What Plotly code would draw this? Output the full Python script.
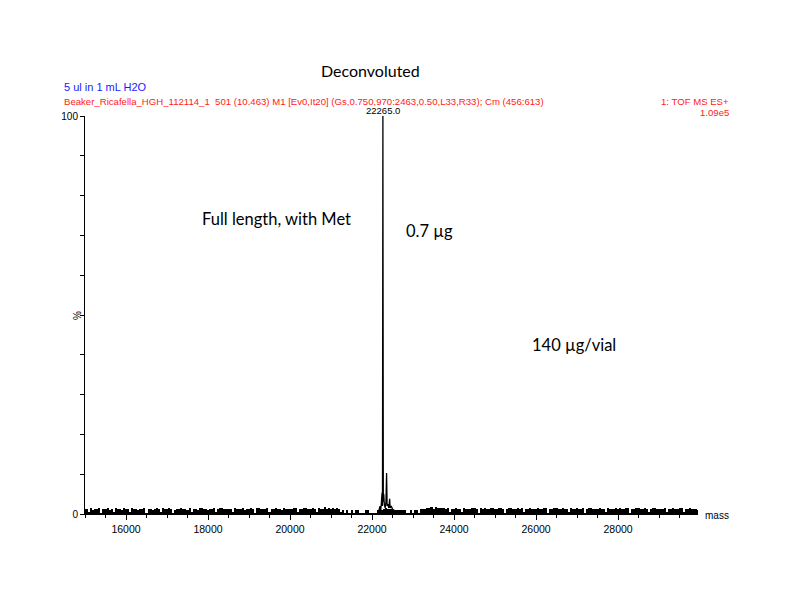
import numpy as np
import plotly.graph_objects as go

# deconvoluted spectrum baseline, one value per 50 Da from 15000 to 29950 (% of base peak)
base_start = 15000
base_step = 50
base_int = [
    1.2, 1.3, 0.3, 1.4, 1.1, 1.2, 1.3, 1.5, 0.2, 1.3, 1.2, 1.4, 1.1, 1.2, 0.3, 1.4, 1.2, 1.3, 1.1, 1.5,
    1.3, 1.2, 0.4, 1.4, 1.2, 1.3, 1.1, 1.2, 1.3, 1.5, 0.2, 1.3, 1.2, 1.1, 1.3, 1.4, 1.2, 0.3, 1.4, 1.2,
    1.2, 1.4, 1.3, 0.2, 1.1, 1.3, 1.2, 1.4, 1.3, 1.2, 1.1, 1.5, 0.3, 1.3, 1.2, 1.1, 1.4, 1.4, 1.2, 1.3,
    1.1, 1.3, 1.2, 1.5, 0.3, 1.2, 1.4, 1.4, 1.2, 1.3, 1.3, 1.2, 0.4, 1.4, 1.2, 1.3, 1.3, 1.5, 1.1, 1.2,
    1.3, 1.4, 1.2, 0.2, 1.4, 1.6, 1.3, 1.3, 1.2, 1.4, 0.3, 1.2, 1.3, 1.5, 1.2, 1.3, 1.1, 1.4, 1.3, 1.2,
    1.2, 1.3, 1.4, 1.5, 0.3, 1.2, 1.2, 1.4, 1.5, 1.3, 1.3, 1.6, 1.2, 0.3, 1.4, 1.3, 1.3, 1.7, 1.2, 1.5,
    1.3, 1.4, 1.2, 1.6, 1.3, 0.3, 1.1, 0.2, 1.0, 0.2, 1.1, 0.2, 1.0, 0.9, 0.2, 0.2, 0.2, 1.0, 1.0, 0.2,
    0.2, 0.2, 0.2, 1.1, 1.2, 1.0, 1.2, 1.4, 1.3, 1.2, 1.0, 1.1, 1.0, 1.0, 1.1, 1.0, 1.0, 0.2, 0.2, 1.0,
    0.2, 1.0, 1.1, 0.2, 1.2, 1.3, 1.2, 1.6, 1.4, 1.8, 1.3, 1.7, 1.5, 1.6, 1.4, 1.5, 1.3, 1.4, 0.3, 1.3,
    1.3, 1.5, 1.2, 1.3, 0.4, 1.4, 1.3, 1.2, 1.2, 1.5, 1.4, 1.3, 0.2, 1.4, 1.3, 1.6, 1.2, 1.3, 1.4, 1.4,
    1.2, 1.3, 1.4, 1.5, 1.3, 0.2, 1.2, 1.4, 1.4, 1.3, 1.3, 1.5, 1.2, 1.4, 0.4, 1.2, 1.3, 1.4, 1.2, 1.3,
    1.3, 1.4, 1.2, 1.3, 1.4, 1.5, 0.2, 1.2, 1.3, 1.4, 1.4, 1.3, 1.2, 1.5, 1.3, 1.2, 0.4, 1.4, 1.2, 1.3,
    1.4, 1.2, 1.3, 1.4, 0.2, 1.3, 1.4, 1.5, 1.3, 1.2, 1.2, 1.4, 1.3, 1.3, 0.4, 1.5, 1.2, 1.3, 1.3, 1.4,
    1.2, 1.5, 1.3, 1.2, 1.4, 1.4, 0.2, 1.3, 1.3, 1.5, 1.4, 1.2, 1.2, 1.4, 1.3, 0.3, 1.2, 1.4, 1.4, 1.2,
    1.3, 1.3, 1.2, 1.4, 0.4, 1.2, 1.3, 1.5, 1.2, 1.3, 1.4, 1.4, 0.3, 1.2, 1.2, 1.4, 1.3, 1.3, 1.2, 1.1,
]
base_mass = np.arange(len(base_int)) * base_step + base_start

# peak cluster around the main protein mass
peak_mass = [22150, 22170, 22195, 22215, 22235, 22245, 22255, 22265, 22275, 22285, 22300, 22320,
             22340, 22355, 22368, 22390, 22410, 22430, 22442, 22470, 22500, 22530, 22550]
peak_int = [0.2, 1.5, 2.0, 1.0, 3.0, 5.3, 2.0, 100.0, 3.0, 5.0, 2.5, 1.5,
            3.0, 10.3, 2.0, 2.5, 1.5, 3.8, 1.5, 2.0, 1.2, 1.0, 0.2]

x_lo, x_hi = 15000, 29950
# plot area in page pixels; the page body adds an 8 px margin
OFF = 8
L, R, T, B = 85, 698, 116, 514
W, H = 776, 596


def px(xp):
    return (xp - L) / (R - L)


def py(yp):
    return (B - yp) / (B - T)


fig = go.Figure()
fig.add_trace(go.Bar(x=base_mass, y=base_int, width=base_step, marker=dict(color='black', line_width=0),
                     hoverinfo='skip'))
fig.add_trace(go.Scatter(x=peak_mass, y=peak_int, mode='lines',
                         line=dict(color='black', width=1.3), hoverinfo='skip'))

arial = 'Liberation Sans'
calib = 'Lato'
red = '#ff2020'
anns = [
    dict(text='Deconvoluted', x=px(370), y=py(70), font=dict(family=calib, size=16)),
    dict(text='5 ul in 1 mL H2O', x=px(62), y=py(87), xanchor='left',
         font=dict(family=arial, size=11, color='#1a1aff')),
    dict(text='Beaker_Ricafella_HGH_112114_1  501 (10.463) M1 [Ev0,It20] (Gs,0.750,970:2463,0.50,L33,R33); Cm (456:613)',
         x=px(62), y=py(101), xanchor='left', font=dict(family=arial, size=9.6, color=red)),
    dict(text='1: TOF MS ES+', x=px(731), y=py(101), xanchor='right',
         font=dict(family=arial, size=9.6, color=red)),
    dict(text='1.09e5', x=px(731), y=py(113), xanchor='right',
         font=dict(family=arial, size=9.6, color=red)),
    dict(text='%', x=px(77), y=py(316), textangle=-90, font=dict(family=arial, size=10)),
    dict(text='mass', x=px(703), y=py(516), xanchor='left', font=dict(family=arial, size=10)),
    dict(text='Full length, with Met', x=px(200), y=py(219), xanchor='left',
         font=dict(family=calib, size=16.5)),
    dict(text='0.7 µg', x=px(404), y=py(231), xanchor='left', font=dict(family=calib, size=16.5)),
    dict(text='140 µg/vial', x=px(530), y=py(345), xanchor='left', font=dict(family=calib, size=16.5)),
]
fig.add_annotation(text='22265.0', x=22265, y=100, xref='x', yref='y', showarrow=False,
                   yanchor='bottom', yshift=-2, font=dict(family=arial, size=9.5))
for a in anns:
    a.setdefault('xanchor', 'center')
    fig.add_annotation(xref='paper', yref='paper', showarrow=False, yanchor='middle', **a)

fig.update_xaxes(range=[x_lo, x_hi], showline=True, linecolor='black', linewidth=1,
                 showgrid=False, zeroline=False, ticks='outside', ticklen=5, tickcolor='black',
                 tick0=16000, dtick=2000, tickformat='d',
                 tickfont=dict(family=arial, size=10.5, color='black'),
                 minor=dict(ticks='outside', ticklen=3, dtick=500, tick0=15000, tickcolor='black'))
fig.update_yaxes(range=[0, 100], showline=True, linecolor='black', linewidth=1,
                 showgrid=False, zeroline=False, ticks='outside', ticklen=4, tickcolor='black',
                 tickvals=[0, 100], ticktext=['0', '100'],
                 tickfont=dict(family=arial, size=10, color='black'),
                 minor=dict(ticks='outside', ticklen=4, dtick=10, tickcolor='black'))
fig.update_layout(width=W, height=H, showlegend=False, bargap=0,
                  font=dict(color='black'),
                  paper_bgcolor='white', plot_bgcolor='white',
                  margin=dict(l=L - OFF, r=W - (R - OFF), t=T - OFF, b=H - (B - OFF)))
fig.write_html("out.html")
